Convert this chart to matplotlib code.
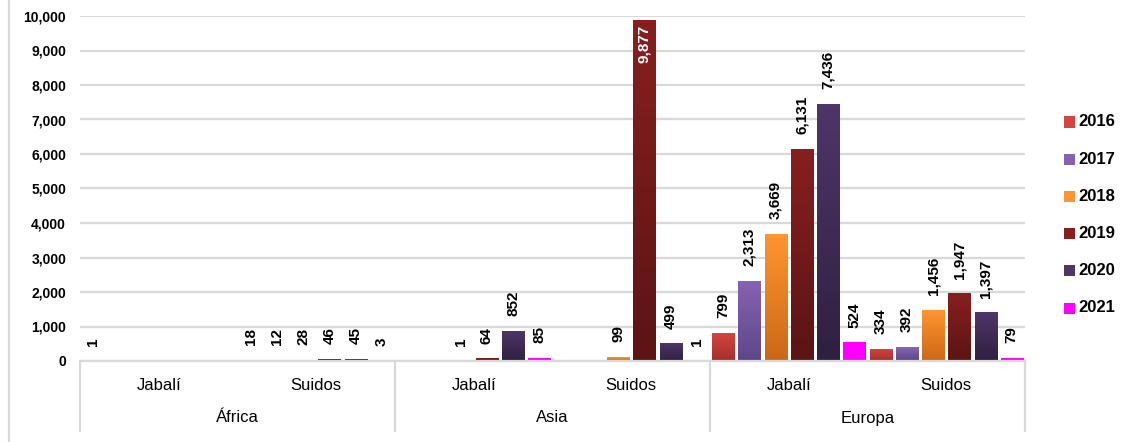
import numpy as np
import matplotlib
matplotlib.use("Agg")
import matplotlib.pyplot as plt
from matplotlib import font_manager as fm
from matplotlib.colors import LinearSegmentedColormap
from matplotlib.lines import Line2D
from matplotlib.patches import Rectangle

# ---- data -------------------------------------------------------------
years = ["2016", "2017", "2018", "2019", "2020", "2021"]
regions = ["África", "Asia", "Europa"]
species = ["Jabalí", "Suidos"]
nan = np.nan
# order of categories: África-Jabalí, África-Suidos, Asia-Jabalí, Asia-Suidos, Europa-Jabalí, Europa-Suidos
v2016 = [1, 18, nan, nan, 799, 334]
v2017 = [nan, 12, nan, nan, 2313, 392]
v2018 = [nan, 28, 1, 99, 3669, 1456]
v2019 = [nan, 46, 64, 9877, 6131, 1947]
v2020 = [nan, 45, 852, 499, 7436, 1397]
v2021 = [nan, 3, 85, 1, 524, 79]
series = [v2016, v2017, v2018, v2019, v2020, v2021]
yticks = [0, 1000, 2000, 3000, 4000, 5000, 6000, 7000, 8000, 9000, 10000]

# (top colour, bottom colour) for each year
shades = [("#d3453f", "#a52f2d"),
          ("#8663b2", "#5d4787"),
          ("#ff9530", "#cb6818"),
          ("#871f1f", "#5c1414"),
          ("#4f3569", "#2f203f"),
          ("#ff00ff", "#ff00ff")]

# ---- fonts ------------------------------------------------------------
names = {f.name for f in fm.fontManager.ttflist}
NARROW = "Liberation Sans Narrow" if "Liberation Sans Narrow" in names else "Liberation Sans"
plt.rcParams["font.family"] = [NARROW, "DejaVu Sans"]

W, H = 1136, 442
fig = plt.figure(figsize=(W / 100, H / 100), dpi=100)
ax_l, ax_r, ax_t, ax_b = 80, 1025, 16, 361
ax = fig.add_axes([ax_l / W, 1 - ax_b / H, (ax_r - ax_l) / W, (ax_b - ax_t) / H])
ax.set_autoscale_on(False)
ax.set_xlim(0, 36)
ax.set_ylim(0, 10000)

grid_c = "#d9d9d9"
for s in ["left", "right", "top"]:
    ax.spines[s].set_visible(False)
ax.spines["bottom"].set_color(grid_c)
ax.spines["bottom"].set_linewidth(1.6)
ax.set_yticks(yticks)
ax.set_yticklabels([f"{t:,}" for t in yticks], fontsize=10, fontweight="bold")
ax.tick_params(axis="y", length=0, pad=10)
ax.set_xticks([])
ax.yaxis.grid(True, color=grid_c, linewidth=1.6)
ax.set_axisbelow(True)

ncat = len(series[0])
nyear = len(years)
bar_w = 0.84
grad = np.linspace(0, 1, 64).reshape(-1, 1)

for yi, vals in enumerate(series):
    cmap = LinearSegmentedColormap.from_list(years[yi], [shades[yi][1], shades[yi][0]])
    for ci, v in enumerate(vals):
        if np.isnan(v):
            continue
        xc = ci * nyear + yi + 0.5
        x0, x1 = xc - bar_w / 2, xc + bar_w / 2
        ax.bar(xc, v, width=bar_w, color=shades[yi][1], linewidth=0, zorder=2)
        ax.imshow(grad, extent=[x0, x1, 0, v], origin="lower", aspect="auto",
                  cmap=cmap, interpolation="bilinear", zorder=2.5)
        label = f"{int(v):,}"
        if v > 0.9 * ax.get_ylim()[1]:
            ax.annotate(label, (xc, v), xytext=(0, -3), textcoords="offset points",
                        rotation=90, ha="center", va="top", fontsize=11,
                        fontweight="bold", color="white", zorder=4)
        else:
            ax.annotate(label, (xc, v), xytext=(0, 11), textcoords="offset points",
                        rotation=90, ha="center", va="bottom", fontsize=11,
                        fontweight="bold", color="black", zorder=4)

ax.set_xlim(0, 36)
ax.set_ylim(0, 10000)

# ---- two-level category axis ----------------------------------------------
xt = ax.get_xaxis_transform()
hpx = ax_b - ax_t
sp_y = -(431 - ax_b) / hpx
for k in range(len(regions) + 1):
    x = k * 2 * nyear
    ax.add_line(Line2D([x, x], [0, sp_y], transform=xt, color=grid_c,
                       linewidth=1.6, clip_on=False))
for ri, reg in enumerate(regions):
    for si, sp in enumerate(species):
        xc = (ri * 2 + si) * nyear + nyear / 2
        ax.text(xc, -(385 - ax_b) / hpx, sp, transform=xt, ha="center",
                va="center", fontsize=12)
    ax.text((ri * 2 + 1) * nyear, -(418 - ax_b) / hpx, reg, transform=xt,
            ha="center", va="center", fontsize=12)

# ---- legend -----------------------------------------------------------
for yi, yr in enumerate(years):
    yc = 122 + yi * 37.2
    fig.patches.append(Rectangle((1064 / W, 1 - (yc + 5.5) / H), 11 / W, 11 / H,
                                 transform=fig.transFigure, color=shades[yi][0],
                                 linewidth=0))
    fig.text(1078 / W, 1 - yc / H, yr, ha="left", va="center",
             fontsize=12, fontweight="bold")

# outer frame edge
fig.add_artist(Line2D([8.5 / W, 8.5 / W], [0, 1], transform=fig.transFigure,
                      color=grid_c, linewidth=1.6))

fig.savefig("out.png", dpi=100)
